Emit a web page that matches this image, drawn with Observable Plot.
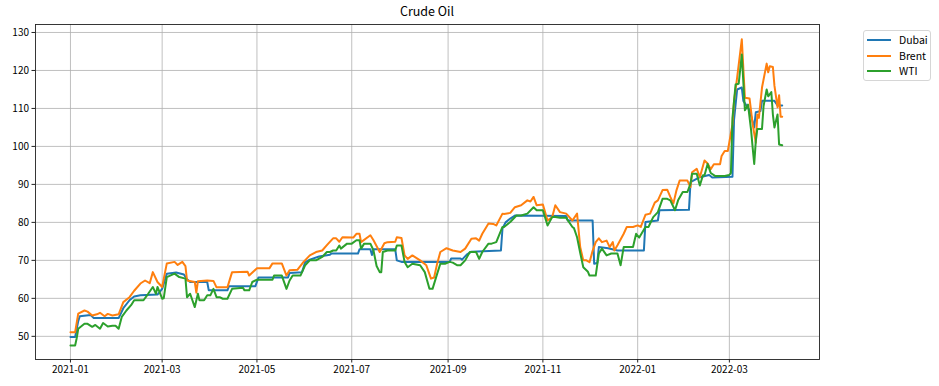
<!DOCTYPE html>
<html><head><meta charset="utf-8">
<script src="https://cdn.jsdelivr.net/npm/d3@7"></script>
<script src="https://cdn.jsdelivr.net/npm/@observablehq/plot@0.6"></script>
<style>
body{margin:0;background:#fff;}
#wrap{position:relative;width:939px;height:386px;font-family:"Noto Sans CJK KR","Noto Sans",sans-serif;color:#000;}
#title{position:absolute;z-index:2;left:35px;width:784px;top:2px;text-align:center;font-size:12.5px;line-height:18px;}
#legend{position:absolute;z-index:2;left:863px;top:30px;width:68px;height:51px;border:1px solid #d6d6d6;border-radius:3px;box-sizing:border-box;background:rgba(255,255,255,0.8);font-size:10.5px;}
.row{position:absolute;left:0;height:14px;}
.sw{position:absolute;left:3px;top:6px;width:24px;height:2px;}
.lb{position:absolute;left:35px;top:-1px;line-height:15px;white-space:nowrap;}
</style>
</head><body>
<div id="wrap"><div id="title">Crude Oil</div><div id="legend"></div></div>
<script>
const seriesNames = ["Dubai", "Brent", "WTI"];
const seriesColors = ["#1f77b4", "#ff7f0e", "#2ca02c"];
const xTicks = ["2021-01-01","2021-03-01","2021-05-01","2021-07-01","2021-09-01","2021-11-01","2022-01-01","2022-03-01"];
const yTicks = [50, 60, 70, 80, 90, 100, 110, 120, 130];

const dubaiDates = ["2021-01-01","2021-01-04","2021-01-06","2021-01-07","2021-01-14","2021-01-16","2021-02-01","2021-02-04","2021-02-08","2021-02-11","2021-02-15","2021-02-26","2021-03-01","2021-03-04","2021-03-10","2021-03-15","2021-03-17","2021-03-19","2021-03-30","2021-03-31","2021-04-12","2021-04-13","2021-04-30","2021-05-02","2021-05-21","2021-05-22","2021-05-30","2021-06-01","2021-06-04","2021-06-10","2021-06-17","2021-06-18","2021-07-05","2021-07-06","2021-07-13","2021-07-14","2021-07-15","2021-07-29","2021-07-30","2021-08-02","2021-09-02","2021-09-03","2021-09-09","2021-09-10","2021-09-13","2021-09-16","2021-10-05","2021-10-06","2021-10-08","2021-10-11","2021-10-14","2021-11-16","2021-11-17","2021-12-03","2021-12-04","2021-12-06","2021-12-07","2021-12-13","2021-12-19","2022-01-05","2022-01-06","2022-01-14","2022-01-15","2022-02-03","2022-02-04","2022-02-10","2022-02-16","2022-02-18","2022-03-03","2022-03-04","2022-03-06","2022-03-09","2022-03-10","2022-03-14","2022-03-17","2022-03-18","2022-03-21","2022-03-22","2022-03-30","2022-04-01","2022-04-04"];
const dubaiValues = [49.8,49.8,54.0,55.3,55.6,54.8,54.8,57.4,59.5,60.5,60.8,61.0,62.5,66.5,66.8,66.3,65.0,64.3,64.3,62.1,62.1,63.2,63.2,65.5,65.5,66.7,66.9,69.5,70.2,71.0,71.5,71.8,71.8,72.9,72.9,71.4,72.9,72.9,70.0,69.6,69.6,70.5,70.5,70.2,71.5,72.3,72.6,78.4,80.0,81.0,81.8,81.7,80.5,80.5,69.1,69.3,73.5,73.2,72.6,72.6,80.1,80.5,83.2,83.3,90.6,91.9,92.5,91.8,92.0,107.0,115.0,115.5,112.0,109.5,105.0,109.0,109.3,112.0,112.0,110.8,110.8];

const brentDates = ["2021-01-01","2021-01-04","2021-01-06","2021-01-10","2021-01-12","2021-01-15","2021-01-18","2021-01-20","2021-01-23","2021-01-25","2021-01-28","2021-02-01","2021-02-04","2021-02-08","2021-02-11","2021-02-15","2021-02-18","2021-02-21","2021-02-23","2021-02-26","2021-03-01","2021-03-04","2021-03-09","2021-03-11","2021-03-14","2021-03-16","2021-03-17","2021-03-22","2021-03-23","2021-03-24","2021-03-30","2021-04-03","2021-04-05","2021-04-12","2021-04-15","2021-04-25","2021-04-26","2021-05-01","2021-05-09","2021-05-11","2021-05-17","2021-05-20","2021-05-22","2021-05-27","2021-05-31","2021-06-04","2021-06-08","2021-06-12","2021-06-15","2021-06-19","2021-06-21","2021-06-23","2021-06-25","2021-07-02","2021-07-04","2021-07-06","2021-07-07","2021-07-13","2021-07-15","2021-07-19","2021-07-22","2021-07-24","2021-07-29","2021-07-30","2021-08-02","2021-08-04","2021-08-06","2021-08-09","2021-08-14","2021-08-18","2021-08-21","2021-08-23","2021-08-25","2021-08-27","2021-08-31","2021-09-04","2021-09-09","2021-09-12","2021-09-16","2021-09-19","2021-09-21","2021-09-23","2021-09-27","2021-09-30","2021-10-02","2021-10-06","2021-10-07","2021-10-11","2021-10-14","2021-10-18","2021-10-22","2021-10-24","2021-10-26","2021-10-28","2021-11-01","2021-11-04","2021-11-07","2021-11-09","2021-11-12","2021-11-16","2021-11-20","2021-11-23","2021-11-25","2021-11-27","2021-11-29","2021-12-01","2021-12-03","2021-12-05","2021-12-07","2021-12-09","2021-12-12","2021-12-14","2021-12-16","2021-12-17","2021-12-19","2021-12-23","2021-12-25","2021-12-29","2022-01-01","2022-01-03","2022-01-06","2022-01-09","2022-01-12","2022-01-14","2022-01-17","2022-01-20","2022-01-22","2022-01-24","2022-01-26","2022-01-28","2022-02-02","2022-02-04","2022-02-05","2022-02-08","2022-02-10","2022-02-13","2022-02-15","2022-02-17","2022-02-19","2022-02-23","2022-02-24","2022-02-26","2022-02-28","2022-03-03","2022-03-04","2022-03-06","2022-03-09","2022-03-11","2022-03-14","2022-03-16","2022-03-18","2022-03-19","2022-03-20","2022-03-22","2022-03-25","2022-03-26","2022-03-27","2022-03-29","2022-03-30","2022-04-01","2022-04-02","2022-04-03","2022-04-04"];
const brentValues = [51.1,51.1,56.0,56.8,56.5,55.5,55.8,56.2,55.3,55.9,55.5,55.8,59.0,60.3,62.0,63.9,64.7,64.0,66.9,64.3,63.0,69.2,69.6,68.8,69.6,68.5,64.7,64.3,61.5,64.5,64.7,64.6,62.9,62.9,66.9,67.0,66.0,67.9,67.9,69.2,69.2,66.0,67.4,67.5,69.6,71.3,72.2,72.6,74.0,75.8,75.8,74.9,76.1,76.0,77.0,77.0,74.8,76.6,75.3,72.2,74.5,74.8,74.9,76.1,75.9,71.3,70.4,71.3,70.0,68.7,65.2,65.5,69.2,72.2,73.2,72.6,72.2,73.1,75.7,75.8,75.2,77.0,79.7,79.6,79.2,82.3,82.2,82.5,84.0,84.5,85.8,85.5,86.7,84.5,84.7,80.5,81.4,84.5,82.7,82.3,80.5,82.3,73.5,70.0,70.0,69.5,72.5,74.8,75.8,74.8,75.2,73.5,74.8,72.6,74.0,77.0,78.8,78.8,79.2,78.8,82.0,82.3,85.2,85.8,88.5,88.6,86.7,85.0,88.5,91.0,91.0,89.3,93.2,94.1,91.9,96.3,95.5,94.0,95.3,95.3,97.5,98.8,98.8,105.8,111.9,118.1,128.2,112.8,112.6,105.8,101.0,108.4,107.5,115.5,121.8,119.5,121.1,120.9,116.0,110.3,113.5,107.8,107.8];

const wtiDates = ["2021-01-01","2021-01-04","2021-01-05","2021-01-06","2021-01-10","2021-01-12","2021-01-15","2021-01-17","2021-01-20","2021-01-22","2021-01-25","2021-01-28","2021-01-30","2021-02-01","2021-02-03","2021-02-06","2021-02-09","2021-02-11","2021-02-17","2021-02-20","2021-02-23","2021-02-25","2021-02-26","2021-03-01","2021-03-02","2021-03-04","2021-03-09","2021-03-12","2021-03-16","2021-03-17","2021-03-19","2021-03-22","2021-03-24","2021-03-25","2021-03-28","2021-03-30","2021-04-01","2021-04-03","2021-04-05","2021-04-07","2021-04-09","2021-04-12","2021-04-15","2021-04-22","2021-04-23","2021-04-26","2021-04-28","2021-05-01","2021-05-11","2021-05-12","2021-05-17","2021-05-20","2021-05-22","2021-05-24","2021-05-29","2021-06-01","2021-06-04","2021-06-08","2021-06-12","2021-06-15","2021-06-17","2021-06-19","2021-06-21","2021-06-23","2021-06-24","2021-06-28","2021-07-01","2021-07-04","2021-07-06","2021-07-07","2021-07-09","2021-07-13","2021-07-15","2021-07-17","2021-07-19","2021-07-20","2021-07-21","2021-07-24","2021-07-29","2021-07-30","2021-08-02","2021-08-04","2021-08-06","2021-08-09","2021-08-14","2021-08-17","2021-08-20","2021-08-22","2021-08-25","2021-08-27","2021-08-30","2021-09-02","2021-09-04","2021-09-07","2021-09-09","2021-09-12","2021-09-15","2021-09-19","2021-09-21","2021-09-23","2021-09-27","2021-09-29","2021-10-02","2021-10-06","2021-10-07","2021-10-11","2021-10-15","2021-10-18","2021-10-22","2021-10-26","2021-10-28","2021-11-01","2021-11-04","2021-11-07","2021-11-09","2021-11-12","2021-11-16","2021-11-20","2021-11-21","2021-11-23","2021-11-25","2021-11-27","2021-11-30","2021-12-01","2021-12-05","2021-12-07","2021-12-09","2021-12-12","2021-12-15","2021-12-19","2021-12-21","2021-12-23","2021-12-29","2021-12-31","2022-01-02","2022-01-06","2022-01-08","2022-01-09","2022-01-11","2022-01-14","2022-01-17","2022-01-20","2022-01-22","2022-01-25","2022-01-27","2022-01-30","2022-02-02","2022-02-04","2022-02-05","2022-02-08","2022-02-10","2022-02-12","2022-02-13","2022-02-15","2022-02-17","2022-02-20","2022-02-23","2022-02-26","2022-03-01","2022-03-02","2022-03-03","2022-03-05","2022-03-07","2022-03-09","2022-03-11","2022-03-12","2022-03-13","2022-03-15","2022-03-16","2022-03-17","2022-03-18","2022-03-19","2022-03-22","2022-03-23","2022-03-25","2022-03-26","2022-03-28","2022-03-29","2022-03-30","2022-04-01","2022-04-02","2022-04-04"];
const wtiValues = [47.6,47.6,49.5,52.0,53.3,53.3,52.5,53.0,52.0,53.5,52.6,52.8,52.8,52.0,55.1,56.8,58.2,59.5,59.5,61.2,63.0,61.2,63.0,59.9,60.0,65.6,66.5,65.6,65.2,60.3,61.2,57.7,61.2,59.5,59.5,60.8,60.8,62.5,60.3,60.3,59.9,59.9,62.5,62.8,62.1,62.1,64.3,64.9,64.9,66.0,66.0,62.5,64.7,66.0,66.0,68.7,70.0,70.0,70.9,72.2,72.2,72.6,72.6,73.9,73.1,74.4,74.4,75.3,75.3,73.1,74.4,74.4,72.6,68.5,66.9,66.9,72.2,72.6,72.6,73.9,73.9,69.6,68.2,69.1,68.7,66.9,62.5,62.5,66.5,69.1,69.1,69.6,69.4,68.7,68.7,70.0,72.2,72.2,70.4,72.2,74.4,74.4,74.8,78.8,78.8,80.1,81.8,81.8,82.3,84.0,83.2,83.2,79.2,81.4,81.4,81.2,81.2,78.8,78.5,76.1,72.0,68.2,67.0,66.0,66.0,71.8,73.1,71.3,71.8,71.8,68.7,73.5,73.5,77.0,76.0,78.8,78.8,79.7,81.4,82.7,86.2,86.2,85.8,83.2,85.8,88.0,88.0,90.2,92.8,92.8,89.7,92.4,92.4,95.4,93.0,92.2,92.2,92.2,92.5,93.0,107.5,116.3,116.5,124.2,109.5,110.2,111.0,104.2,99.6,95.4,101.4,104.6,104.6,110.6,115.0,113.2,114.3,108.4,105.0,108.4,100.5,100.3];

const parse = d3.utcParse("%Y-%m-%d");
const toRows = (dates, values) => dates.map((d, i) => ({date: parse(d), value: values[i]}));
const tables = [toRows(dubaiDates, dubaiValues), toRows(brentDates, brentValues), toRows(wtiDates, wtiValues)];
const xTickDates = xTicks.map(parse);

const font = '"Noto Sans CJK KR","Noto Sans",sans-serif';
const chart = Plot.plot({
  width: 939, height: 386,
  marginLeft: 35, marginRight: 120, marginTop: 24, marginBottom: 27,
  style: {fontFamily: font, fontSize: "10px", color: "#000", background: "transparent", overflow: "visible"},
  x: {type: "utc", domain: [new Date(Date.UTC(2020, 11, 9, 12)), new Date(Date.UTC(2022, 3, 28))], label: null},
  y: {domain: [43.9, 132.1], label: null},
  marks: [
    Plot.gridX(xTickDates, {stroke: "#b0b0b0", strokeOpacity: 1, strokeWidth: 0.8}),
    Plot.gridY(yTicks, {stroke: "#b0b0b0", strokeOpacity: 1, strokeWidth: 0.8}),
    ...tables.map((t, i) => Plot.line(t, {x: "date", y: "value", stroke: seriesColors[i], strokeWidth: 2, strokeLinejoin: "round"})),
    Plot.frame({stroke: "#222", strokeWidth: 0.9}),
    Plot.axisX(xTickDates, {tickFormat: d3.utcFormat("%Y-%m"), tickSize: 3.5, tickPadding: 3, stroke: "#222", fill: "#000", label: null}),
    Plot.axisY(yTicks, {tickSize: 3.5, tickPadding: 3, stroke: "#222", fill: "#000", label: null})
  ]
});
chart.style.position = "absolute"; chart.style.left = "0"; chart.style.top = "0"; chart.style.zIndex = "1";
const wrap = document.getElementById("wrap");
wrap.insertBefore(chart, wrap.firstChild);

const legend = document.getElementById("legend");
seriesNames.forEach((name, i) => {
  const row = document.createElement("div");
  row.className = "row";
  row.style.top = (2 + i * 15.7) + "px";
  row.innerHTML = `<span class="sw" style="background:${seriesColors[i]}"></span><span class="lb">${name}</span>`;
  legend.appendChild(row);
});
</script>
</body></html>
